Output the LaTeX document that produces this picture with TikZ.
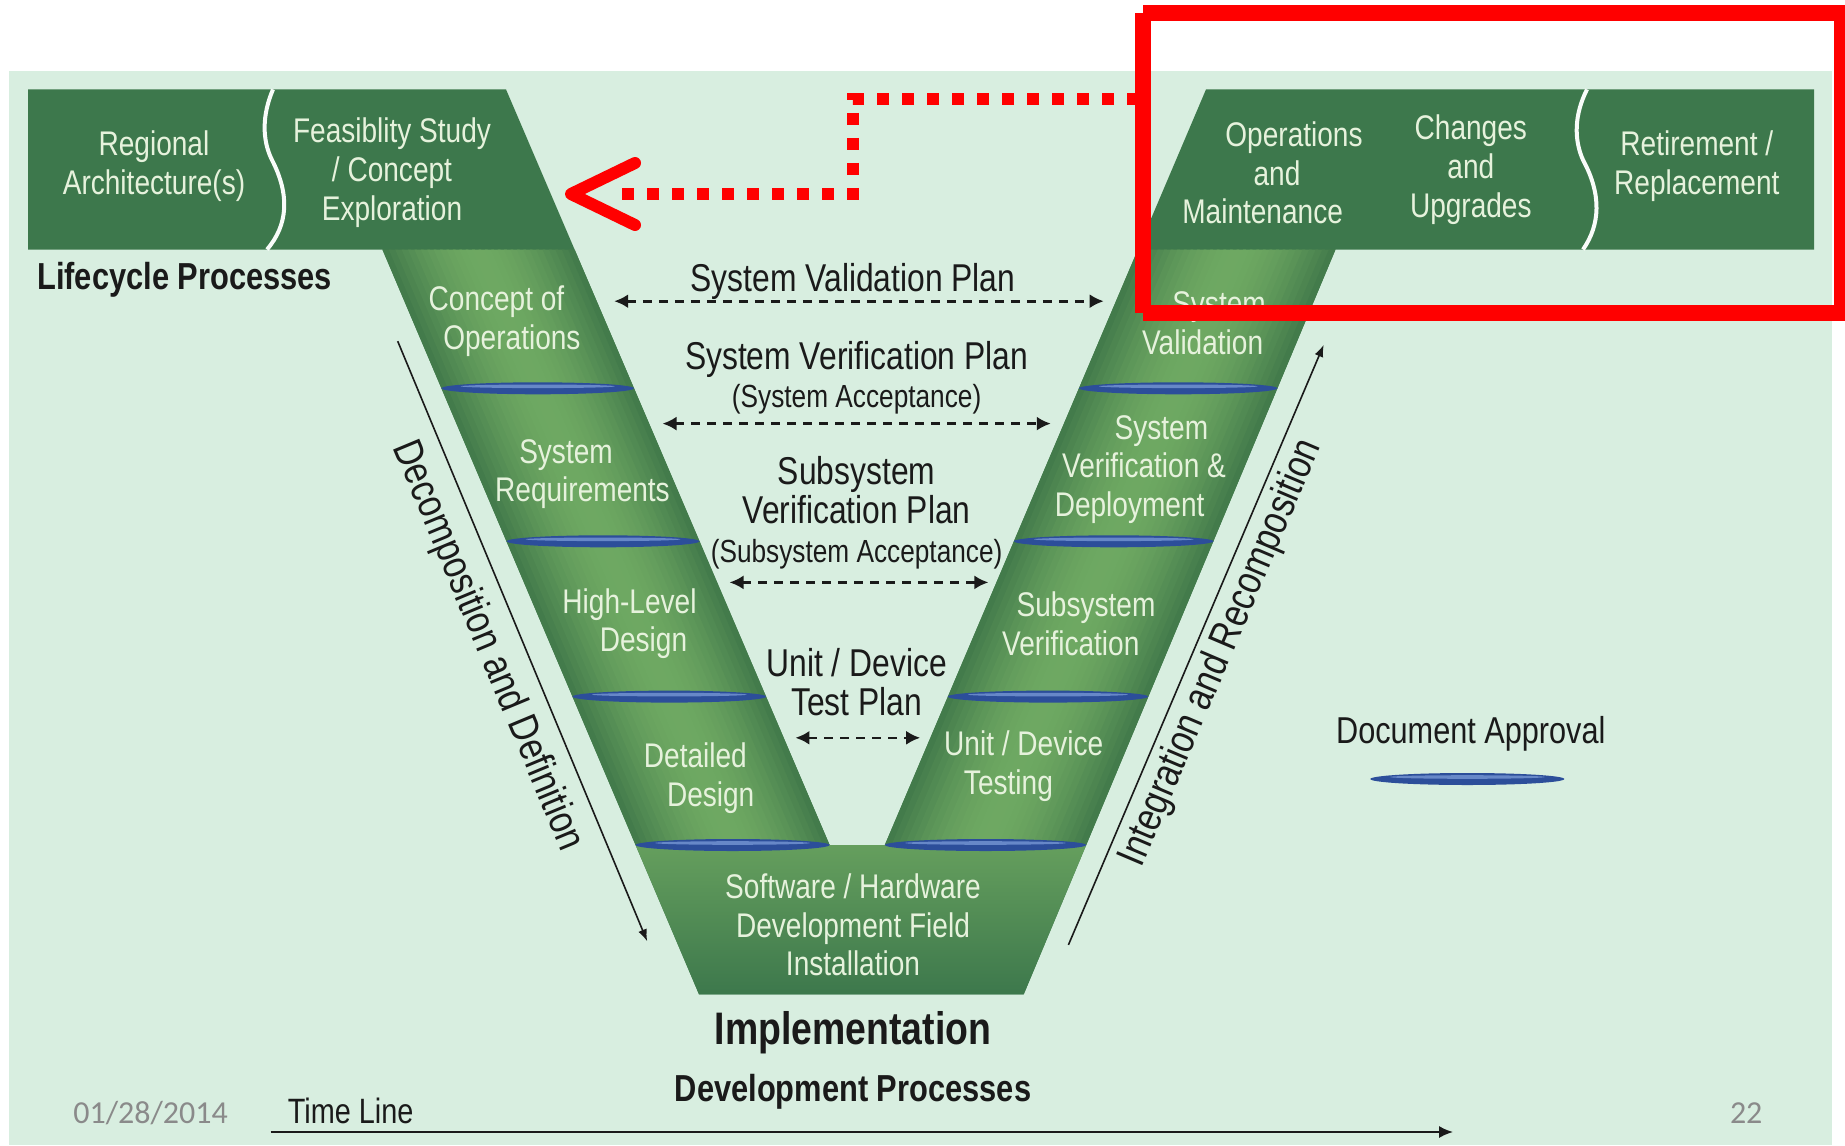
\documentclass[tikz,border=0pt]{standalone}
\usepackage{fontspec}
\setmainfont{Liberation Sans}[FakeStretch=0.82]
\newfontfamily\slidefont{Carlito}
\usetikzlibrary{arrows.meta,calc}

\definecolor{mint}{HTML}{D8EEE0}
\definecolor{bandgreen}{HTML}{3D784C}
\definecolor{armdk}{HTML}{41794A}
\definecolor{armlt}{HTML}{6EA862}
\definecolor{txtw}{HTML}{E6F2DC}
\definecolor{ink}{HTML}{1A1A1A}
\definecolor{barblue}{HTML}{2C4E9A}
\definecolor{barhi}{HTML}{7C9CD8}
\definecolor{redc}{HTML}{FF0000}
\definecolor{dategray}{HTML}{8A8A8A}

% approval bar: centre x, centre y, half width (pt)
\newcommand\apbar[3]{%
  \fill[barblue] (#1,#2) ellipse [x radius=#3pt, y radius=3pt];
  \fill[barhi, opacity=0.75] (#1,#2-2) ellipse [x radius=0.8*#3pt, y radius=0.9pt];
}

\begin{document}
\begin{tikzpicture}[x=0.5pt,y=-0.5pt,
  wtxt/.style={text=txtw, align=center, inner sep=0pt, yshift=-1.75pt, font=\fontsize{17.1}{19.4}\selectfont},
  btxt/.style={text=ink, align=center, inner sep=0pt, yshift=-1.5pt, font=\fontsize{19.4}{19.4}\selectfont},
  boldlbl/.style={text=ink, inner sep=0pt, yshift=-1.75pt, font=\bfseries\fontsize{18.8}{20}\selectfont},
  rottxt/.style={text=ink, inner sep=0pt, font=\fontsize{20.6}{22}\selectfont},
  dasharr/.style={ink, line width=1.3pt, dash pattern=on 4.5pt off 3.5pt,
    {Latex[length=7pt,width=7pt]}-{Latex[length=7pt,width=7pt]}},
  axisline/.style={ink, line width=0.8pt, -{Latex[length=6pt,width=4.5pt]}},
  redbox/.style={draw=redc, line width=4pt},
  reddots/.style={draw=redc, line width=6pt, dash pattern=on 6pt off 6.5pt},
  redhead/.style={draw=redc, line width=6pt, line cap=round, line join=round},
  slidenum/.style={text=dategray, inner sep=0pt, font=\slidefont\fontsize{16}{18}\selectfont}]

\useasboundingbox (0,0) rectangle (1845,1145);
\fill[white] (0,0) rectangle (1845,1145);
\fill[mint] (9,71) rectangle (1832,1145);

% ---- the V outline: bands, arms and bottom
\fill[bandgreen] (28,89.4) -- (506,89.4) -- (829.6,845) -- (884.8,845)
  -- (1206,89.4) -- (1814,89.4) -- (1814,249.5) -- (1335.5,249.5)
  -- (1023.7,994.3) -- (699,994.3) -- (382.4,249.5) -- (28,249.5) -- cycle;

% arm edges
\coordinate (LA0) at (382.4,249.5); \coordinate (LB0) at (574.6,249.5);
\coordinate (LA1) at (635.6,845);   \coordinate (LB1) at (829.6,845);
\coordinate (RA0) at (1137.9,249.5); \coordinate (RB0) at (1335.5,249.5);
\coordinate (RA1) at (884.8,845);    \coordinate (RB1) at (1086.2,845);

% arms: lighter along the middle, darker at the edges
\foreach \i in {0,...,29}{
  \pgfmathsetmacro\ta{\i/30}
  \pgfmathsetmacro\tb{min((\i+1.4)/30,1)}
  \pgfmathsetmacro\pc{100*sin(180*(\i+0.5)/30)}
  \fill[armlt!\pc!armdk] ($(LA0)!\ta!(LB0)$) -- ($(LA0)!\tb!(LB0)$)
     -- ($(LA1)!\tb!(LB1)$) -- ($(LA1)!\ta!(LB1)$) -- cycle;
  \fill[armlt!\pc!armdk] ($(RA0)!\ta!(RB0)$) -- ($(RA0)!\tb!(RB0)$)
     -- ($(RA1)!\tb!(RB1)$) -- ($(RA1)!\ta!(RB1)$) -- cycle;
}
% bottom block
\shade[top color=armlt!80!armdk, bottom color=bandgreen]
  (635.6,845) -- (1086.2,845) -- (1023.7,994.3) -- (699,994.3) -- cycle;

% wavy separators in the bands
\draw[white!85!mint, line width=2pt] (273,89.4) .. controls (262,115) and (262,140) .. (272,160)
  .. controls (290,195) and (288,225) .. (267,249.5);
\draw[white!85!mint, line width=2pt] (1587,89.4) .. controls (1574,115) and (1574,140) .. (1583,160)
  .. controls (1602,195) and (1600,225) .. (1583,249.5);

% document approval bars
\apbar{537.7}{388.3}{48.2}
\apbar{603}{541.3}{48.3}
\apbar{669.3}{696.6}{48.4}
\apbar{732.6}{845}{48.5}
\apbar{1178.2}{388.3}{49.6}
\apbar{1113.7}{541.3}{49.9}
\apbar{1048}{696.6}{50.1}
\apbar{985.5}{845}{50.3}
\apbar{1467.3}{779}{48.5}

% ---- white labels on the green shape
\node[wtxt] (regarch) at (154,162.4) {Regional\\Architecture(s)};
\node[wtxt] (feas) at (392,169.4) {Feasiblity Study\\/ Concept\\Exploration};
\node[wtxt] (conops) at (504.2,317.7) {Concept of\hspace*{7.7pt}\\\hspace*{7.7pt}Operations};
\node[wtxt] (sysreq) at (574,470.7) {System\hspace*{8pt}\\\hspace*{8.5pt}Requirements};
\node[wtxt] (hld) at (636.5,620.1) {High-Level\hspace*{7pt}\\\hspace*{7pt}Design};
\node[wtxt] (dd) at (703,774.3) {Detailed\hspace*{7.6pt}\\\hspace*{7.7pt}Design};
\node[wtxt] (swhw) at (853,921.3) {Software / Hardware\\Development Field\\Installation};
\node[wtxt] (udt) at (1016,762.5) {\hspace*{7.7pt}Unit / Device\\Testing\hspace*{7.6pt}};
\node[wtxt] (ssv) at (1078,620.1) {\hspace*{8pt}Subsystem\\Verification\hspace*{7.2pt}};
\node[wtxt] (svd) at (1144,466) {\hspace*{17.4pt}System\\Verification \&\\Deployment\hspace*{14.4pt}};
\node[wtxt] (sysval) at (1210,319.5) {\hspace*{9pt}System\\Validation\hspace*{7.4pt}};
\node[wtxt] (om) at (1277,169.4) {\hspace*{17pt}Operations\\and\\Maintenance\hspace*{14.4pt}};
\node[wtxt] (cu) at (1470.8,165.9) {Changes\\and\\Upgrades};
\node[wtxt] (ret) at (1696.8,162.4) {Retirement /\\Replacement};

% ---- black labels
\node[boldlbl] (lifecycle) at (184.7,276.5) {Lifecycle Processes};
\node[btxt] (svp) at (853,278.9) {System Validation Plan};
\node[btxt] (sverp) at (856.6,374.8) {System Verification Plan\\{\fontsize{16}{19.4}\selectfont(System Acceptance)}};
\node[btxt] (ssvp) at (856.6,509.5) {Subsystem\\Verification Plan\\{\fontsize{16}{19.4}\selectfont(Subsystem Acceptance)}};
\node[btxt] (udtp) at (856.6,679.5) {Unit / Device\\Test Plan};
\node[btxt, font=\fontsize{18.7}{20}\selectfont] (docappr) at (1470.8,730.7) {Document Approval};
\node[boldlbl, font=\bfseries\fontsize{22.8}{24}\selectfont] (impl) at (853,1029.6) {Implementation};
\node[boldlbl] (devproc) at (853,1088.4) {Development Processes};
\node[btxt, font=\fontsize{17.6}{19}\selectfont] (timeline) at (350.6,1108.4) {Time Line};
\node[slidenum] (date) at (150.6,1113.1) {01/28/2014};
\node[slidenum] (pageno) at (1746.2,1113.1) {22};

% ---- verification / validation plan arrows
\coordinate (p1l) at (614.2,301.2); \coordinate (p1r) at (1103.7,301.2);
\coordinate (p2l) at (662.5,423.6); \coordinate (p2r) at (1050.8,423.6);
\coordinate (p3l) at (729.5,582.4); \coordinate (p3r) at (988.4,582.4);
\coordinate (p4l) at (795.4,737.8); \coordinate (p4r) at (920.2,737.8);
\draw[dasharr] (p1l) -- (p1r);
\draw[dasharr] (p2l) -- (p2r);
\draw[dasharr] (p3l) -- (p3r);
\draw[dasharr] (p4l) -- (p4r);

% ---- side axes
\coordinate (decA) at (397.7,341.2); \coordinate (decB) at (647.2,941.3);
\coordinate (intA) at (1068.4,944.9); \coordinate (intB) at (1323.7,344.8);
\draw[axisline] (decA) -- (decB);
\draw[axisline] (intA) -- (intB);
\node[rottxt, rotate=-67.4] (decomp) at (487.2,646) {Decomposition and Definition};
\node[rottxt, rotate=67] (integ) at (1221.5,653) {Integration and Recomposition};

% ---- time line
\coordinate (tl0) at (270.6,1132); \coordinate (tl1) at (1453.2,1132);
\draw[ink, line width=1.2pt, -{Latex[length=7pt,width=6pt]}] (tl0) -- (tl1);

% ---- red highlight (two overlapping frames) and pointer
\draw[redbox] (1139,17) rectangle (1838,309);
\draw[redbox] (1147,9) rectangle (1846,317);
\coordinate (rd0) at (1139,98.8);
\coordinate (rd1) at (853,194);
\coordinate (rd2) at (612,194);
\coordinate (rtip) at (571,194);
\draw[reddots] (rd0) -| (rd1) -- (rd2);
\draw[redhead] (635,163) -- (rtip) -- (635,225);
\end{tikzpicture}
\end{document}
